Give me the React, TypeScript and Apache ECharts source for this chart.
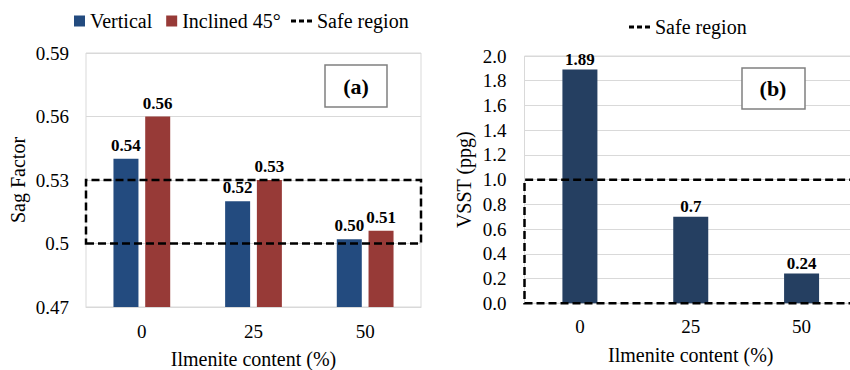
import React, { useEffect, useRef } from "react";
import * as echarts from "echarts";

// Panel (a): sag factor by ilmenite content
const ilmeniteContent = ["0", "25", "50"];
const sagVertical = [0.54, 0.52, 0.502];
const sagInclined = [0.56, 0.53, 0.506];
const sagTicks = { min: 0.47, max: 0.59, interval: 0.03 };
const sagSafeRegion = [0.5, 0.53];

// Panel (b): VSST by ilmenite content
const vsstValues = [1.89, 0.7, 0.24];
const vsstTicks = { min: 0, max: 2, interval: 0.2 };
const vsstSafeRegion = [0, 1];

const FONT = "Liberation Serif";
const GRID_LINE = "#d9d9d9";
const BLUE = "#234b7f";
const RED = "#973a37";
const NAVY = "#253f61";

// three short dashes used as the legend key of the safe-region box
const DASH_ICON = "path://M0,0H5V3H0Z M8,0H13V3H8Z M16,0H21V3H16Z";

const safeBox = (range: number[]) => ({
  silent: true,
  z: 10,
  label: { show: false },
  itemStyle: {
    color: "rgba(0,0,0,0)",
    borderColor: "#000",
    borderWidth: 2.5,
    borderType: [8, 4],
  },
  data: [[{ yAxis: range[0] }, { yAxis: range[1] }]],
});

export default function App() {
  const ref = useRef<HTMLDivElement>(null);

  useEffect(() => {
    if (!ref.current) return;
    const chart = echarts.init(ref.current, null, { renderer: "svg" });

    const tickLabel = { fontFamily: FONT, fontSize: 19, color: "#000" };
    const axisName = { fontFamily: FONT, fontSize: 20, color: "#000", lineHeight: 20 };
    const legendText = { fontFamily: FONT, fontSize: 20, color: "#000" };
    const valueLabel = {
      show: true,
      position: "top",
      fontFamily: FONT,
      fontSize: 17,
      fontWeight: "bold",
      color: "#000",
    };
    const safeLegend = {
      data: [{ name: "Safe region", icon: DASH_ICON }],
      padding: 0,
      itemWidth: 21,
      itemHeight: 3,
      itemStyle: { color: "#000" },
      textStyle: legendText,
    };

    chart.setOption({
      animation: false,
      backgroundColor: "#fff",
      legend: [
        {
          data: ["Vertical", "Inclined 45°"],
          left: 74,
          top: 11,
          padding: 0,
          icon: "rect",
          itemWidth: 11,
          itemHeight: 11,
          itemGap: 14,
          textStyle: legendText,
        },
        { ...safeLegend, left: 291, top: 11 },
        { ...safeLegend, left: 629, top: 17 },
      ],
      grid: [
        {
          left: 86,
          top: 53,
          width: 335,
          height: 254,
          outerBoundsMode: "none",
          show: true,
          borderColor: GRID_LINE,
          borderWidth: 1,
        },
        {
          left: 524.5,
          top: 56,
          width: 332.5,
          height: 247.3,
          outerBoundsMode: "none",
          show: true,
          borderColor: GRID_LINE,
          borderWidth: 1,
        },
      ],
      xAxis: [
        {
          type: "category",
          gridIndex: 0,
          data: ilmeniteContent,
          axisLine: { lineStyle: { color: GRID_LINE } },
          axisTick: { show: false },
          axisLabel: { ...tickLabel, margin: 15 },
          name: "Ilmenite content (%)",
          nameLocation: "middle",
          nameGap: 42,
          nameTextStyle: axisName,
        },
        {
          type: "category",
          gridIndex: 1,
          data: ilmeniteContent,
          axisLine: { lineStyle: { color: GRID_LINE } },
          axisTick: { show: false },
          axisLabel: { ...tickLabel, margin: 14 },
          name: "Ilmenite content (%)",
          nameLocation: "middle",
          nameGap: 42,
          nameTextStyle: axisName,
        },
      ],
      yAxis: [
        {
          type: "value",
          gridIndex: 0,
          ...sagTicks,
          axisLine: { show: false },
          axisTick: { show: false },
          splitLine: { lineStyle: { color: GRID_LINE } },
          axisLabel: { ...tickLabel, margin: 17 },
          name: "Sag Factor",
          nameLocation: "middle",
          nameGap: 58,
          nameTextStyle: axisName,
        },
        {
          type: "value",
          gridIndex: 1,
          ...vsstTicks,
          axisLine: { show: false },
          axisTick: { show: false },
          splitLine: { lineStyle: { color: GRID_LINE } },
          axisLabel: {
            ...tickLabel,
            margin: 18,
            formatter: (v: number) => v.toFixed(1),
          },
          name: "VSST (ppg)",
          nameLocation: "middle",
          nameGap: 51,
          nameTextStyle: axisName,
        },
      ],
      series: [
        {
          name: "Vertical",
          type: "bar",
          xAxisIndex: 0,
          yAxisIndex: 0,
          data: sagVertical,
          barWidth: 25,
          barGap: "27%",
          itemStyle: { color: BLUE },
          label: {
            ...valueLabel,
            distance: 5,
            formatter: (p: any) => Number(p.value).toFixed(2),
          },
        },
        {
          name: "Inclined 45°",
          type: "bar",
          xAxisIndex: 0,
          yAxisIndex: 0,
          data: sagInclined,
          barWidth: 25,
          barGap: "27%",
          itemStyle: { color: RED },
          label: {
            ...valueLabel,
            distance: 5,
            formatter: (p: any) => Number(p.value).toFixed(2),
          },
        },
        {
          name: "Safe region",
          type: "line",
          xAxisIndex: 0,
          yAxisIndex: 0,
          data: [],
          symbol: "none",
          clip: false,
          lineStyle: { color: "#000", width: 2.5, type: [5, 3] },
          itemStyle: { color: "#000" },
          markArea: safeBox(sagSafeRegion),
        },
        {
          name: "VSST",
          type: "bar",
          xAxisIndex: 1,
          yAxisIndex: 1,
          data: vsstValues,
          barWidth: 35,
          itemStyle: { color: NAVY },
          label: { ...valueLabel, distance: 2 },
        },
        {
          name: "Safe region",
          type: "line",
          xAxisIndex: 1,
          yAxisIndex: 1,
          data: [],
          symbol: "none",
          clip: false,
          lineStyle: { color: "#000", width: 2.5, type: [5, 3] },
          itemStyle: { color: "#000" },
          markArea: safeBox(vsstSafeRegion),
        },
      ],
      graphic: [
        {
          type: "rect",
          shape: { x: 325, y: 65, width: 62, height: 42 },
          style: { fill: "#fff", stroke: "#808080", lineWidth: 1.5 },
          z: 20,
        },
        {
          type: "text",
          x: 356,
          y: 86,
          style: {
            text: "(a)",
            fontFamily: FONT,
            fontSize: 22,
            fontWeight: "bold",
            fill: "#000",
            align: "center",
            verticalAlign: "middle",
          },
          z: 21,
        },
        {
          type: "rect",
          shape: { x: 742, y: 68, width: 63, height: 41 },
          style: { fill: "#fff", stroke: "#808080", lineWidth: 1.5 },
          z: 20,
        },
        {
          type: "text",
          x: 773,
          y: 88,
          style: {
            text: "(b)",
            fontFamily: FONT,
            fontSize: 22,
            fontWeight: "bold",
            fill: "#000",
            align: "center",
            verticalAlign: "middle",
          },
          z: 21,
        },
      ],
    });

    return () => chart.dispose();
  }, []);

  return (
    <div
      ref={ref}
      style={{ position: "fixed", left: 0, top: 0, width: 850, height: 370 }}
    />
  );
}
